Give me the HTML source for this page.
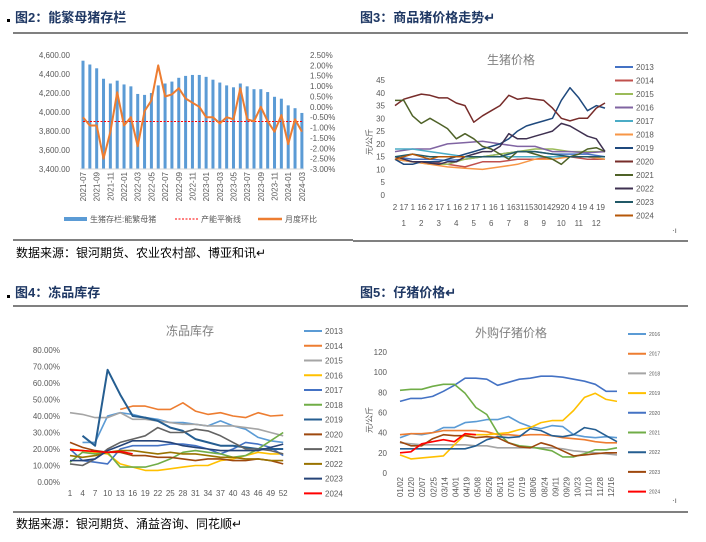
<!DOCTYPE html>
<html><head><meta charset="utf-8"><style>
body{margin:0;background:#fff;}
svg{display:block;font-family:"Liberation Sans","Noto Sans CJK SC",sans-serif;}
.t{font-size:13px;font-weight:bold;fill:#1f3864;}
.s{font-size:12px;fill:#000;}
.a{font-size:8px;fill:#595959;}
.ct{font-size:12px;fill:#7f7f7f;}
</style></head><body>
<svg id="c" width="706" height="542" viewBox="0 0 706 542" xmlns="http://www.w3.org/2000/svg">
<rect x="7" y="19" width="3" height="3" fill="#000"/>
<text x="15" y="22" class="t">图2：能繁母猪存栏</text>
<line x1="13" y1="33" x2="353" y2="33" stroke="#000"/>
<text x="360" y="22" class="t">图3：商品猪价格走势↵</text>
<line x1="353" y1="33" x2="688" y2="33" stroke="#000"/>
<line x1="13" y1="240" x2="353" y2="240" stroke="#000"/>
<line x1="353" y1="241" x2="688" y2="241" stroke="#000"/>
<text x="16" y="257" class="s">数据来源：银河期货、农业农村部、博亚和讯↵</text>
<rect x="7" y="295" width="3" height="3" fill="#000"/>
<text x="15" y="297" class="t">图4：冻品库存</text>
<line x1="13" y1="306" x2="353" y2="306" stroke="#000"/>
<text x="360" y="297" class="t">图5：仔猪价格↵</text>
<line x1="353" y1="306" x2="688" y2="306" stroke="#000"/>
<line x1="13" y1="512" x2="353" y2="512" stroke="#000"/>
<line x1="353" y1="512" x2="688" y2="512" stroke="#000"/>
<text x="16" y="528" class="s">数据来源：银河期货、涌益咨询、同花顺↵</text>
<text x="672" y="233" class="a">·ı</text>
<text x="672" y="503" class="a">·ı</text>
</svg>
<script>
// ---------- Chart 1 data ----------
const months1 = ["2021-07","2021-08","2021-09","2021-10","2021-11","2021-12","2022-01","2022-02","2022-03","2022-04","2022-05","2022-06","2022-07","2022-08","2022-09","2022-10","2022-11","2022-12","2023-01","2023-02","2023-03","2023-04","2023-05","2023-06","2023-07","2023-08","2023-09","2023-10","2023-11","2023-12","2024-01","2024-02","2024-03"];
const sows = [4540,4500,4460,4350,4300,4330,4290,4270,4190,4180,4200,4280,4300,4320,4360,4380,4390,4390,4370,4340,4310,4280,4260,4300,4270,4240,4240,4210,4160,4140,4070,4040,3990];
const mom = [-0.5,-0.9,-0.9,-2.5,-1.2,0.7,-0.9,-0.5,-1.9,-0.2,0.3,2.0,0.5,0.6,0.9,0.4,0.2,0.0,-0.5,-0.5,-0.8,-0.5,-0.6,0.9,-0.6,-0.7,0.0,-0.7,-1.2,-0.4,-1.8,-0.6,-1.2];
const balanceLine = 3900;
const leftTicks = [3400,3600,3800,4000,4200,4400,4600];
const rightTicks = [-3.0,-2.5,-2.0,-1.5,-1.0,-0.5,0,0.5,1.0,1.5,2.0,2.5];
// ---------- Chart 2 data (half-month steps) ----------
const years2 = ["2013","2014","2015","2016","2017","2018","2019","2020","2021","2022","2023","2024"];
const p2013 = [15,14,14,13.5,14,15,16,17,17,16,16,16,15];
const p2014 = [14,13,13,12,11,13,13,14,14,15,15,14,14];
const p2015 = [14,13,12,12,14,15,16,17,18,18,17,17,17];
const p2016 = [17,18,18,20,20.5,21,20,19,19,17,17,16.5,17];
const p2017 = [18,18,17,16,15,15,15,15,15,15,15,15,14];
const p2018 = [14,13,12,11,10.5,10,11,12,14,14,15,15,14];
const p2019 = [14,12,12,13,13,13,14,15,16,17,18,19,20,22,25,27,28,29,30,37,42,38,33,35,34];
const p2020 = [35,37.5,38.5,39.5,39,38,38,36,35,28.5,31,33,35,39,37.5,38,37.5,37,34,30,29,30,30,34,36];
const p2021 = [37,37,31,28,30,28,26,22,24,22,19,18,16,14,17,17,16,15,14,12,15,16,18,18.5,17];
const p2022 = [15,14,13,13,12.5,12,13,13,15,16,17,17,19,24,22,22,23,24,25,28,27,25,23,22,17];
const p2023 = [15,16,15,15,15,15,15,17,17,16,15,15,15];
const p2024 = [14,15,16,15,14,15,15,15,15];
const priceTicks = [0,5,10,15,20,25,30,35,40,45];
const xTicks2 = ["2","17","1","16","2","17","1","16","2","17","1","16","1","16","31","15","30","14","29","20","4","19","4","19"];
// ---------- Chart 3 data (weeks 1,4,...,52) ----------
const years3 = ["2013","2014","2015","2016","2017","2018","2019","2020","2021","2022","2023","2024"];
const s2013 = [null,24,24,40,42,41,39,38,36,36,35,34,37,34,32,27,25,24];
const s2014 = [null,null,null,null,44,46,46,44,44,48,43,41,42,40,39,42,40,40.5];
const s2015 = [42,41,39,39,42,38,38,37,36,35,35,34,34,34,33,32,30,28];
const s2016 = [20,19,18,17,11,9,7,7,8,9,10,10,13,14,16,18,17,17];
const s2017 = [20,13,12,11,20,22,22,22,23,23,22,20,17,20,24,23,21,16];
const s2018 = [12,18,17,18,9,9,9,11,14,18,19,18,17,15,16,20,25,30];
const s2019 = [null,28,22,68,53,40,39,37,33,31,26,24,22,22,21,20,20,20];
const s2020 = [24,21,19,18,18,16,16,15,15,14,13,14,14,13,13,14,13,11];
const s2021 = [11,10,14,20,24,26,28,33,30,30,32,31,28,24,20,20,19,17];
const s2022 = [16,15,16,18,19,19,18,17,18,17,17,16,15,15,14,14,13,13];
const s2023 = [13,13,14,19,22,25,25,25,24,22,21,20,19,19,19,19,21,23];
const s2024 = [19.5,19,18.5,18,18.5,17];
const stockTicks = [0,10,20,30,40,50,60,70,80];
const weekLabels = [1,4,7,10,13,16,19,22,25,28,31,34,37,40,43,46,49,52];
// ---------- Chart 4 data ----------
const years4 = ["2016","2017","2018","2019","2020","2021","2022","2023","2024"];
const q2016 = [35,39,38,40,45,45,50,51,53,53,56,50,46,44,47,46,38,36,35,36,35];
const q2017 = [38,39,39,40,42,42,42,42,41,38,38,37,38,38,37,35,34,33,31,30,30];
const q2018 = [30,29,28,28,28,28,28,27,27,25,25,25,25,25,25,24,22,21,20,19,18];
const q2019 = [18,14,15,16,17,28,38,38,38,39,40,43,45,50,52,52,62,75,79,73,71];
const q2020 = [71,74,74,76,81,87,94,94,93,87,90,93,94,96,96,95,93,91,88,81,81];
const q2021 = [82,83,83,86,88,88,79,65,58,40,30,27,26,24,22,16,16,19,23,23,25];
const q2022 = [24,24,24,24,24,24,24,27,33,36,35,36,44,42,37,36,38,45,43,37,31];
const q2023 = [31,27,27,34,38,37,37,35,36,35,30,26,25,30,27,22,17,18,19,20,20];
const q2024 = [20,21,29,31,33,31,39,38];
const pigTicks = [0,20,40,60,80,100,120];
const dateLabels = ["01/02","01/20","02/07","02/25","03/14","04/01","04/19","05/08","05/26","06/13","07/01","07/19","08/06","08/24","09/11","09/29","10/23","11/10","11/28","12/16"];

const svg = document.getElementById('c');
const NS = 'http://www.w3.org/2000/svg';
function mk(tag, attrs, parent){ const e=document.createElementNS(NS,tag); for(const k in attrs) e.setAttribute(k,attrs[k]); (parent||svg).appendChild(e); return e; }
function txt(x,y,s,cls,anchor,parent){ const e=mk('text',{x:x,y:y,class:cls,'text-anchor':anchor||'start'},parent); e.textContent=s; return e; }
function poly(arr, xf, yf, color, w, parent, dash){
  let d=''; let pen=false;
  arr.forEach((v,i)=>{ if(v===null){pen=false;return;} d+=(pen?'L':'M')+xf(i).toFixed(1)+' '+yf(v).toFixed(1)+' '; pen=true; });
  const p=mk('path',{d:d,fill:'none',stroke:color,'stroke-width':w,'stroke-linejoin':'round'},parent);
  if(dash) p.setAttribute('stroke-dasharray',dash);
  return p;
}

// ===== Chart 1 =====
(function(){
  const g=mk('g',{});
  
  
  const yL=v=>169-(v-3400)/200*19;
  const yR=v=>169-(v+3)/5.5*114;
  const x=i=>83+i*6.84;
  leftTicks.forEach(t=>{ const e=txt(70,yL(t)+3,t.toLocaleString('en-US',{minimumFractionDigits:2}),'a','end',g);   });
  rightTicks.forEach(t=>{ const e=txt(310,yR(t)+3,t.toFixed(2)+'%','a','start',g);   });
  sows.forEach((v,i)=>{ const r=mk('rect',{x:x(i)-1.5,y:yL(v),width:3,height:169-yL(v),fill:'#5b9bd5'},g);   });
  mk('line',{x1:80,x2:304,y1:169,y2:169,stroke:'#d9d9d9'},g);
  const bl=mk('line',{x1:x(0),x2:x(sows.length-1),y1:yL(balanceLine),y2:yL(balanceLine),stroke:'#ff0000','stroke-width':1,'stroke-dasharray':'2,1.5'},g);
   
  const ml=poly(mom,x,yR,'#ed7d31',2,g);
   
  months1.forEach((m,i)=>{ if(i%2) return; const e=txt(0,0,m,'a','end',g); e.setAttribute('transform','translate('+(x(i)+3)+',172) rotate(-90)');   });
  mk('rect',{x:64,y:217,width:23,height:4,fill:'#5b9bd5'},g); txt(90,222,'生猪存栏:能繁母猪','a','start',g);
  mk('line',{x1:175,x2:198,y1:219,y2:219,stroke:'#ff0000','stroke-dasharray':'2,1.5'},g); txt(201,222,'产能平衡线','a','start',g);
  mk('line',{x1:258,x2:282,y1:219,y2:219,stroke:'#ed7d31','stroke-width':2.5},g); txt(285,222,'月度环比','a','start',g);
})();

// ===== Chart 2 =====
(function(){
  const g=mk('g',{});
  
  
  const y=v=>195-v/45*115;
  const X0=395, W=210;
  const series=[p2013,p2014,p2015,p2016,p2017,p2018,p2019,p2020,p2021,p2022,p2023,p2024];
  const cols=['#4472c4','#c0504d','#9bbb59','#8064a2','#4bacc6','#f79646','#1f497d','#772c2a','#4f6228','#3f3151','#215967','#b65708'];
  txt(511,64,'生猪价格','ct','middle',g);
  priceTicks.forEach(t=>{ const e=txt(385,y(t)+3,t,'a','end',g);   });
  const yt=txt(0,0,'元/公斤','a','middle',g); yt.setAttribute('transform','translate(372,142) rotate(-90)');
  series.forEach((s,k)=>{
    const step = s.length===13 ? 1 : 0.5;
    const xf=i=>X0+(i*step)/12*W;
    const p=poly(s,xf,y,cols[k],1.5,g);
    
    
    const ly=67+k*13.5;
    mk('line',{x1:615,x2:633,y1:ly,y2:ly,stroke:cols[k],'stroke-width':2},g);
    const e=txt(636,ly+3,years2[k],'a','start',g);
     
  });
  xTicks2.forEach((t,i)=>{ const e=txt(X0+i*W/23.5,210,t,'a','middle',g);   });
  for(let m=1;m<=12;m++){ const e=txt(X0+(m-0.5)/12*W,226,m,'a','middle',g);   }
})();

// ===== Chart 3 =====
(function(){
  const g=mk('g',{});
  
  
  const y=v=>482-v/80*132;
  const xw=w=>70+(w-1)*4.18;
  const series=[s2013,s2014,s2015,s2016,s2017,s2018,s2019,s2020,s2021,s2022,s2023,s2024];
  const cols=['#5b9bd5','#ed7d31','#a5a5a5','#ffc000','#4472c4','#70ad47','#255e91','#9e480e','#636363','#997300','#264478','#ff0000'];
  txt(190,335,'冻品库存','ct','middle',g);
  stockTicks.forEach(t=>{ const e=txt(60,y(t)+3,t.toFixed(2)+'%','a','end',g);   });
  series.forEach((s,k)=>{
    const p=poly(s,i=>xw(weekLabels[i]),y,cols[k],k===6?2:1.6,g);
    
    
    const ly=331+k*14.76;
    mk('line',{x1:304,x2:322,y1:ly,y2:ly,stroke:cols[k],'stroke-width':2},g);
    const e=txt(325,ly+3,years3[k],'a','start',g);
     
  });
  weekLabels.forEach(w=>{ const e=txt(xw(w),496,w,'a','middle',g);   });
})();

// ===== Chart 4 =====
(function(){
  const g=mk('g',{});
  
  
  const y=v=>473-v/120*121;
  const xf=i=>400+i*10.85;
  const series=[q2016,q2017,q2018,q2019,q2020,q2021,q2022,q2023,q2024];
  const cols=['#5b9bd5','#ed7d31','#a5a5a5','#ffc000','#4472c4','#70ad47','#255e91','#9e480e','#ff0000'];
  txt(511,337,'外购仔猪价格','ct','middle',g);
  pigTicks.forEach(t=>{ const e=txt(387,y(t)+3,t,'a','end',g);   });
  const yt=txt(0,0,'元/公斤','a','middle',g); yt.setAttribute('transform','translate(372,420) rotate(-90)');
  series.forEach((s,k)=>{
    const p=poly(s,xf,y,cols[k],1.6,g);
    
    
    const ly=334+k*19.7;
    mk('line',{x1:628,x2:646,y1:ly,y2:ly,stroke:cols[k],'stroke-width':2},g);
    const e=txt(649,ly+2,years4[k],'a','start',g);
    e.setAttribute('style','font-size:5px');
     
  });
  dateLabels.forEach((d,i)=>{ const e=txt(0,0,d,'a','end',g); e.setAttribute('transform','translate('+(400+i*11.1+3)+',477) rotate(-90)');   });
})();
</script>
</body></html>
